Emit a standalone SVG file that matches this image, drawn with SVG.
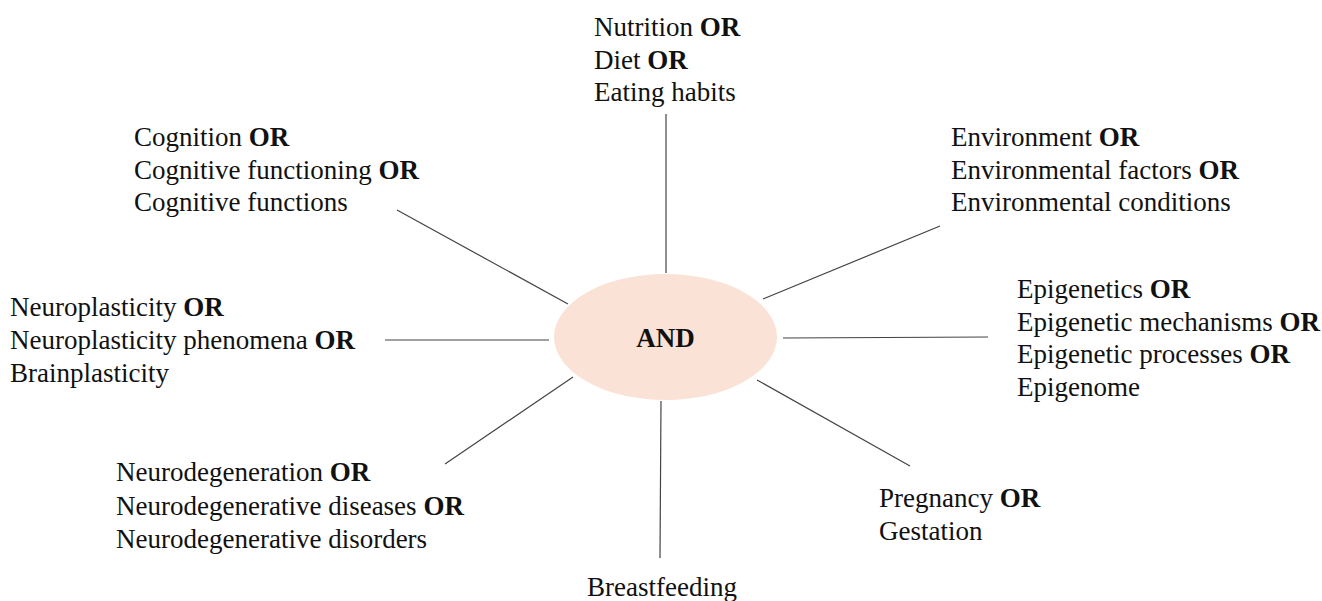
<svg xmlns="http://www.w3.org/2000/svg" width="1322" height="601" viewBox="0 0 1322 601">
<style>
text{font-family:"Liberation Serif","Times New Roman",serif;font-size:27px;fill:#111;}
.b{font-weight:bold;}
.c line{stroke:#444;stroke-width:1.2;}
</style>
<rect width="1322" height="601" fill="#fff"/>
<g class="c" id="connectors">
<line x1="666" y1="114" x2="666" y2="273"/>
<line x1="661" y1="401" x2="660" y2="558"/>
<line x1="385" y1="340" x2="549" y2="340"/>
<line x1="783" y1="338" x2="988" y2="337"/>
<line x1="397" y1="210" x2="568" y2="304"/>
<line x1="763" y1="299" x2="940" y2="226"/>
<line x1="445" y1="464" x2="573" y2="377"/>
<line x1="757" y1="380" x2="910" y2="466"/>
</g>
<g id="center">
<ellipse cx="665.5" cy="337" rx="111.5" ry="63" fill="#fae3d6"/>
<text x="665.5" y="347" text-anchor="middle" class="b">AND</text>
</g>
<g id="nutrition">
<text x="594" y="36">Nutrition <tspan class="b">OR</tspan></text>
<text x="594" y="69">Diet <tspan class="b">OR</tspan></text>
<text x="594" y="101">Eating habits</text>
</g>
<g id="cognition">
<text x="134" y="146">Cognition <tspan class="b">OR</tspan></text>
<text x="134" y="179">Cognitive functioning <tspan class="b">OR</tspan></text>
<text x="134" y="211">Cognitive functions</text>
</g>
<g id="environment">
<text x="951" y="146">Environment <tspan class="b">OR</tspan></text>
<text x="951" y="179">Environmental factors <tspan class="b">OR</tspan></text>
<text x="951" y="211">Environmental conditions</text>
</g>
<g id="neuroplasticity">
<text x="10" y="316">Neuroplasticity <tspan class="b">OR</tspan></text>
<text x="10" y="349">Neuroplasticity phenomena <tspan class="b">OR</tspan></text>
<text x="10" y="382">Brainplasticity</text>
</g>
<g id="epigenetics">
<text x="1017" y="298">Epigenetics <tspan class="b">OR</tspan></text>
<text x="1017" y="331">Epigenetic mechanisms <tspan class="b">OR</tspan></text>
<text x="1017" y="363">Epigenetic processes <tspan class="b">OR</tspan></text>
<text x="1017" y="396">Epigenome</text>
</g>
<g id="neurodegeneration">
<text x="116" y="481">Neurodegeneration <tspan class="b">OR</tspan></text>
<text x="116" y="515">Neurodegenerative diseases <tspan class="b">OR</tspan></text>
<text x="116" y="548">Neurodegenerative disorders</text>
</g>
<g id="pregnancy">
<text x="879" y="507">Pregnancy <tspan class="b">OR</tspan></text>
<text x="879" y="540">Gestation</text>
</g>
<g id="breastfeeding">
<text x="587" y="596">Breastfeeding</text>
</g>
</svg>
